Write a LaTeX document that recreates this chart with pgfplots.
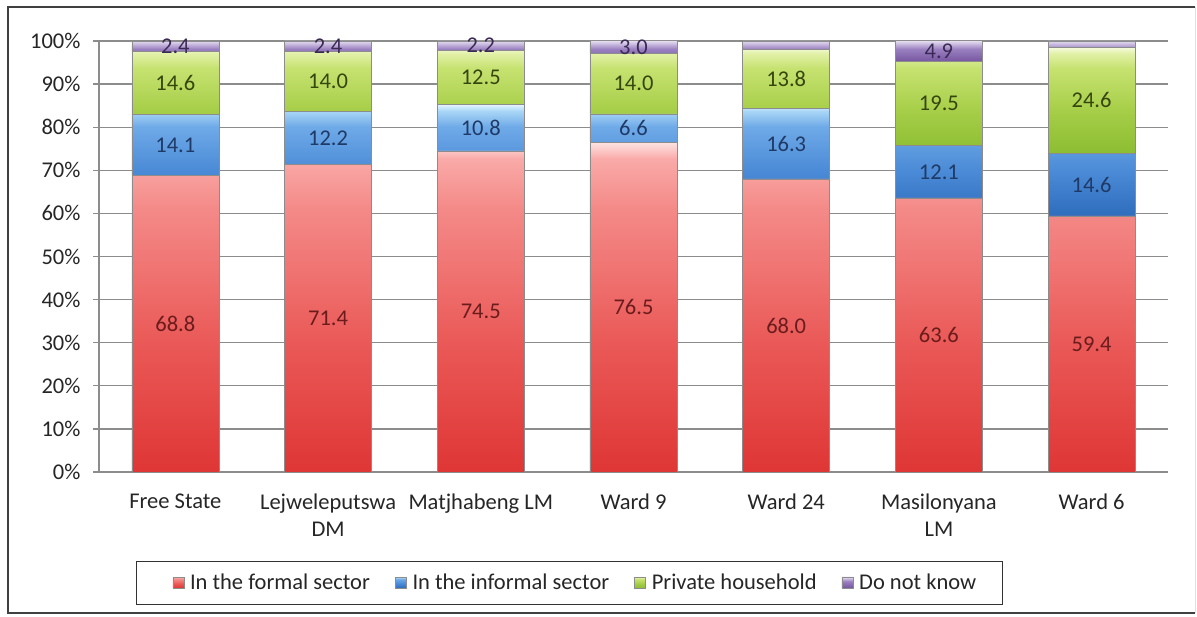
\documentclass[border=0pt]{standalone}
\usepackage{fontspec}
\setmainfont{Carlito}
\usepackage{pgfplots}
\pgfplotsset{compat=1.18}
\usetikzlibrary{shadings}

% segment gradients, bottom (25bp) to top (75bp), with a pale rim at the top
\pgfdeclareverticalshading{frmS}{100bp}{color(0bp)=(rgb,255:red,222;green,54;blue,53);
  color(25bp)=(rgb,255:red,222;green,54;blue,53); color(45bp)=(rgb,255:red,234;green,90;blue,88);
  color(65bp)=(rgb,255:red,244;green,138;blue,136); color(72.5bp)=(rgb,255:red,249;green,170;blue,168);
  color(75bp)=(rgb,255:red,253;green,228;blue,226); color(100bp)=(rgb,255:red,253;green,228;blue,226)}
\pgfdeclareverticalshading{infS}{100bp}{color(0bp)=(rgb,255:red,47;green,109;blue,189);
  color(25bp)=(rgb,255:red,47;green,109;blue,189); color(45bp)=(rgb,255:red,74;green,138;blue,214);
  color(65bp)=(rgb,255:red,111;green,170;blue,232); color(72bp)=(rgb,255:red,169;green,214;blue,246);
  color(75bp)=(rgb,255:red,230;green,246;blue,255); color(100bp)=(rgb,255:red,230;green,246;blue,255)}
\pgfdeclareverticalshading{prvS}{100bp}{color(0bp)=(rgb,255:red,140;green,189;blue,50);
  color(25bp)=(rgb,255:red,140;green,189;blue,50); color(45bp)=(rgb,255:red,166;green,206;blue,72);
  color(65bp)=(rgb,255:red,198;green,226;blue,112); color(72bp)=(rgb,255:red,226;green,241;blue,168);
  color(75bp)=(rgb,255:red,246;green,251;blue,224); color(100bp)=(rgb,255:red,246;green,251;blue,224)}
\pgfdeclareverticalshading{dnkS}{100bp}{color(0bp)=(rgb,255:red,117;green,85;blue,160);
  color(25bp)=(rgb,255:red,117;green,85;blue,160); color(55bp)=(rgb,255:red,154;green,128;blue,192);
  color(75bp)=(rgb,255:red,232;green,224;blue,242); color(100bp)=(rgb,255:red,232;green,224;blue,242)}

\definecolor{gridgray}{HTML}{8C8C8C}
\definecolor{txt}{HTML}{262626}
\definecolor{frmTxt}{HTML}{6A1C1C}
\definecolor{infTxt}{HTML}{1F3A66}
\definecolor{prvTxt}{HTML}{36460F}
\definecolor{dnkTxt}{HTML}{3B2A55}

\newcommand\tickfont{\fontsize{22.5}{27}\selectfont}
\newcommand\labelfont{\fontsize{22.5}{27}\selectfont}

% value printed in a segment
\newcommand\segmentlabel{\pgfmathprintnumber[fixed,fixed zerofill,precision=1]{\pgfplotspointmeta}}
% same, but left out for segments too thin to hold it
\newcommand\thinlabel{%
  \begingroup
  \pgfkeys{/pgf/fpu=true,/pgf/fpu/output format=fixed}%
  \pgfmathparse{\pgfplotspointmeta>1.95}%
  \ifdim\pgfmathresult pt>0.5pt
    \endgroup\segmentlabel
  \else
    \endgroup
  \fi}

\pgfplotsset{
  /pgf/number format/assume math mode=true,
  % stacked bars put the label in the middle of its segment
  centred labels/.style 2 args={
    point meta=rawy,
    nodes near coords={#1},
    every node near coord/.append style={anchor=center, font=\labelfont, text=#2},
  },
  segment/.style={draw=black!45, line width=0.6pt, /tikz/shade, /tikz/shading=#1},
}

\begin{document}
\begin{tikzpicture}[x=1pt,y=1pt]
\useasboundingbox (0,0) rectangle (1197,616);
\fill[white] (0,0) rectangle (1197,616);
\draw[black!75, line width=1.6pt] (1195,609) -- (8,609) -- (8,3) -- (1195,3);
\draw[black!12, line width=1pt] (1195,3) -- (1195,609);
\begin{axis}[
  at={(99pt,144pt)}, anchor=south west,
  % a little headroom above 100 so that rounded totals of 100.1 still show
  scale only axis, width=1069pt, height=431.65pt,
  ybar stacked, bar width=0.57,
  xmin=-0.5, xmax=6.5, ymin=0, ymax=100.15,
  xtick={0,...,6},
  xticklabels={Free State,{Lejweleputswa\\DM},Matjhabeng LM,Ward 9,Ward 24,{Masilonyana\\LM},Ward 6},
  ytick={0,10,...,100},
  yticklabel={\pgfmathprintnumber{\tick}\%},
  axis x line*=bottom, axis y line*=left,
  axis line style={gridgray, line width=1.3pt},
  ymajorgrids, grid style={gridgray, line width=1.3pt},
  tick align=outside, major tick length=6pt,
  ytick style={gridgray, line width=1.3pt},
  xtick style={draw=none},
  ticklabel style={font=\tickfont, text=txt},
  xticklabel style={align=center, yshift=-12pt},
  yticklabel style={xshift=-9pt},
  legend columns=4,
  legend style={at={(0.440,-0.257)}, anchor=center, draw=black!80,
    line width=1.2pt, font=\labelfont, text=txt, inner xsep=24pt, inner ysep=11pt,
    /tikz/every even column/.append style={column sep=11pt}},
  legend image code/.code={\draw[#1, line width=0.4pt] (0pt,-5pt) rectangle (11pt,6pt);
    \path (-12pt,0pt) (15pt,0pt);},
]
\addplot[segment=frmS, centred labels={\segmentlabel}{frmTxt}]
  coordinates {(0,68.8) (1,71.4) (2,74.5) (3,76.5) (4,68.0) (5,63.6) (6,59.4)};
\addplot[segment=infS, centred labels={\segmentlabel}{infTxt}]
  coordinates {(0,14.1) (1,12.2) (2,10.8) (3,6.6) (4,16.3) (5,12.1) (6,14.6)};
\addplot[segment=prvS, centred labels={\segmentlabel}{prvTxt}]
  coordinates {(0,14.6) (1,14.0) (2,12.5) (3,14.0) (4,13.8) (5,19.5) (6,24.6)};
\addplot[segment=dnkS, centred labels={\thinlabel}{dnkTxt}]
  coordinates {(0,2.4) (1,2.4) (2,2.2) (3,3.0) (4,1.9) (5,4.9) (6,1.4)};
\legend{In the formal sector, In the informal sector, Private household, Do not know}
\end{axis}
\end{tikzpicture}
\end{document}
